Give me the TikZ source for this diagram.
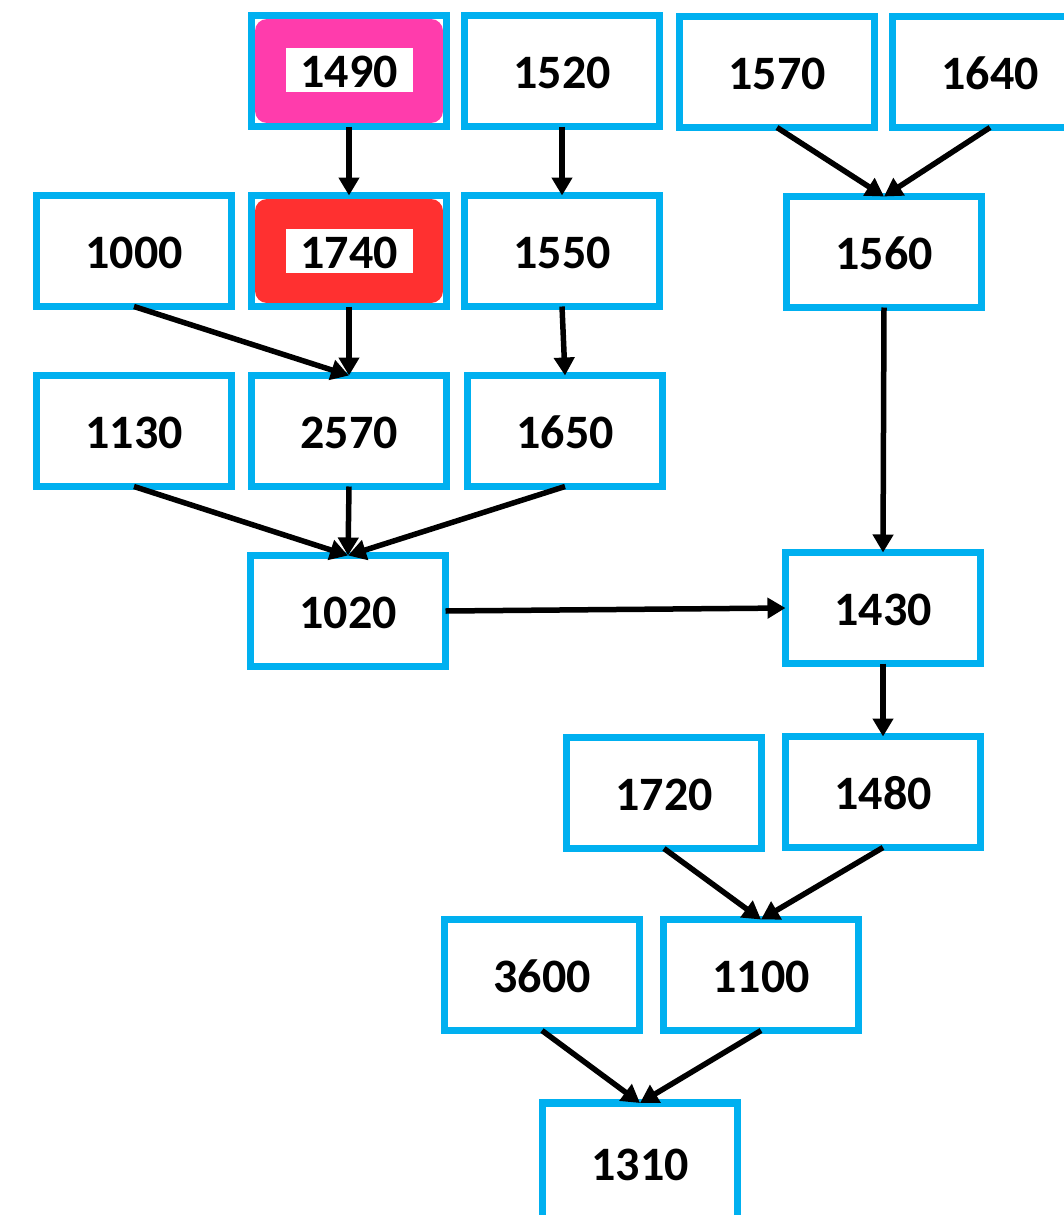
\documentclass[tikz,border=0pt]{standalone}
\usepackage{fontspec}
\setmainfont{Carlito}
\usetikzlibrary{arrows.meta}
\definecolor{boxblue}{HTML}{00B0F0}
\definecolor{hotpink}{HTML}{FF3CAC}
\definecolor{hotred}{HTML}{FF3030}
\begin{document}
\begin{tikzpicture}[x=1pt, y=-1pt] %arbre des codes
        \tikzstyle{codebox} = [rectangle, draw=boxblue, line width=7.5pt, fill=white, minimum width=195pt, minimum height=111pt, inner sep=0pt, outer sep=0pt, text height=35pt, text depth=0pt, font=\fontsize{48}{52}\selectfont\bfseries]
        \tikzstyle{hotbox} = [codebox, path picture={\fill[#1, rounded corners=12pt] ([shift={(3.5pt,3.5pt)}]path picture bounding box.south west) rectangle ([shift={(-3.5pt,-3.5pt)}]path picture bounding box.north east);}]
        \tikzstyle{codetag} = [rectangle, fill=white, minimum width=127pt, minimum height=44pt, inner sep=0pt, text height=35pt, text depth=0pt, font=\fontsize{48}{52}\selectfont\bfseries]
        \tikzstyle{flow} = [draw=black, line width=5.5pt, -{Triangle[length=18pt, width=20pt]}]
        \useasboundingbox (0,0) rectangle (1064,1215);
        \clip (0,0) rectangle (1064,1215);
        % ligne 1
        \node[hotbox=hotpink] (c1490) at (349,71) {};
        \node[codetag] (t1490) at (349,70) {1490};
        \node[codebox] (c1520) at (562,71) {1520};
        \node[codebox] (c1570) at (777,72) {1570};
        \node[codebox] (c1640) at (990,72) {1640};
        % ligne 2
        \node[codebox] (c1000) at (134,251) {1000};
        \node[hotbox=hotred] (c1740) at (349,251) {};
        \node[codetag] (t1740) at (349,251) {1740};
        \node[codebox] (c1550) at (562,251) {1550};
        \node[codebox] (c1560) at (884,252) {1560};
        % ligne 3
        \node[codebox] (c1130) at (134,431) {1130};
        \node[codebox] (c2570) at (349,431) {2570};
        \node[codebox] (c1650) at (565,431) {1650};
        % ligne 4
        \node[codebox] (c1020) at (348,611) {1020};
        \node[codebox] (c1430) at (883,608) {1430};
        % ligne 5
        \node[codebox] (c1720) at (664,793) {1720};
        \node[codebox] (c1480) at (883,792) {1480};
        % ligne 6
        \node[codebox] (c3600) at (542,975) {3600};
        \node[codebox] (c1100) at (761,975) {1100};
        % ligne 7
        \node[codebox, minimum height=120pt] (c1310) at (640,1163) {1310};
        \foreach \a/\b in {c1490/c1740, c1520/c1550, c1570/c1560, c1640/c1560, c1000/c2570, c1740/c2570, c1550/c1650, c1130/c1020, c2570/c1020, c1650/c1020, c1560/c1430, c1430/c1480, c1720/c1100, c1480/c1100, c3600/c1310, c1100/c1310}
        {
            \draw[flow] (\a.south) -- (\b.north);
        }
        \draw[flow] (c1020.east) -- (c1430.west);
\end{tikzpicture}
\end{document}
